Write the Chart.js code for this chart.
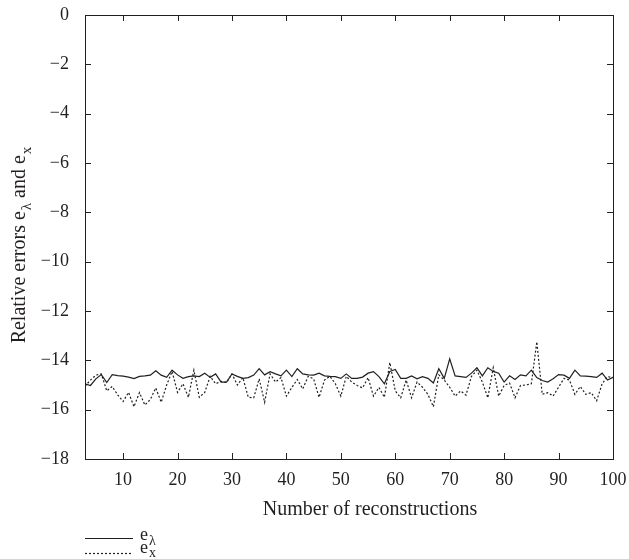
<!DOCTYPE html>
<html>
<head>
<meta charset="utf-8">
<script src="https://cdn.jsdelivr.net/npm/chart.js@4.4.0/dist/chart.umd.min.js"></script>
<style>
  html, body { margin: 0; padding: 0; background: #fff; }
</style>
</head>
<body>
<canvas id="errChart" width="629" height="559"></canvas>
<script>
// x values: number of reconstructions
const reconstructions = [3, 4, 5, 6, 7, 8, 9, 10, 11, 12, 13, 14, 15, 16, 17, 18, 19, 20,
  21, 22, 23, 24, 25, 26, 27, 28, 29, 30, 31, 32, 33, 34, 35, 36, 37, 38, 39, 40,
  41, 42, 43, 44, 45, 46, 47, 48, 49, 50, 51, 52, 53, 54, 55, 56, 57, 58, 59, 60,
  61, 62, 63, 64, 65, 66, 67, 68, 69, 70, 71, 72, 73, 74, 75, 76, 77, 78, 79, 80,
  81, 82, 83, 84, 85, 86, 87, 88, 89, 90, 91, 92, 93, 94, 95, 96, 97, 98, 99, 100];

// e_lambda (solid)
const eLambda = [-14.95, -15.02, -14.75, -14.58, -14.9, -14.58, -14.62, -14.64, -14.68, -14.74,
  -14.65, -14.63, -14.6, -14.42, -14.6, -14.69, -14.4, -14.59, -14.73, -14.66,
  -14.63, -14.66, -14.52, -14.69, -14.55, -14.88, -14.88, -14.55, -14.65, -14.73,
  -14.7, -14.6, -14.34, -14.59, -14.46, -14.55, -14.63, -14.4, -14.66, -14.34,
  -14.55, -14.59, -14.6, -14.52, -14.63, -14.65, -14.66, -14.73, -14.55, -14.73,
  -14.73, -14.68, -14.52, -14.46, -14.66, -14.95, -14.45, -14.37, -14.73, -14.73,
  -14.63, -14.75, -14.66, -14.73, -14.92, -14.34, -14.73, -13.94, -14.63, -14.66,
  -14.69, -14.52, -14.3, -14.63, -14.3, -14.45, -14.52, -14.88, -14.63, -14.78,
  -14.59, -14.63, -14.4, -14.7, -14.82, -14.88, -14.75, -14.58, -14.6, -14.73,
  -14.4, -14.63, -14.64, -14.66, -14.69, -14.52, -14.8, -14.69];

// e_x (dotted)
const eX = [-15.05, -14.8, -14.6, -14.55, -15.24, -15.06, -15.4, -15.67, -15.3, -15.88,
  -15.31, -15.81, -15.59, -15.12, -15.7, -15.0, -14.45, -15.3, -14.95, -15.5,
  -14.4, -15.5, -15.3, -14.65, -14.95, -14.85, -14.9, -14.55, -15.0, -14.7,
  -15.5, -15.52, -14.75, -15.7, -14.55, -14.88, -14.7, -15.45, -15.1, -14.78,
  -15.16, -14.65, -14.75, -15.5, -14.8, -14.65, -14.95, -15.45, -14.65, -14.88,
  -15.02, -15.12, -14.7, -15.45, -15.1, -15.5, -14.09, -15.24, -15.52, -14.8,
  -15.52, -14.88, -15.09, -15.38, -15.88, -14.59, -14.8, -15.09, -15.45, -15.24,
  -15.41, -14.65, -14.4, -14.88, -15.52, -14.3, -15.45, -15.02, -14.92, -15.52,
  -15.02, -15.0, -14.95, -13.25, -15.38, -15.31, -15.45, -15.09, -14.73, -14.8,
  -15.38, -15.06, -15.38, -15.31, -15.64, -14.95, -14.66, -14.7];

const xTicks = [10, 20, 30, 40, 50, 60, 70, 80, 90, 100];
const yTicks = [0, -2, -4, -6, -8, -10, -12, -14, -16, -18];

const FONT = '"Liberation Serif", "DejaVu Serif", serif';
const INK = '#231f20';

// text with a lowered subscript, returns total width
function subText(ctx, base, sub, x, y, size, drop) {
  ctx.font = size + 'px ' + FONT;
  ctx.fillText(base, x, y);
  const w = ctx.measureText(base).width;
  ctx.font = Math.round(size * 0.75) + 'px ' + FONT;
  ctx.fillText(sub, x + w + 1, y + size * (drop || 0.3));
  return w + 1 + ctx.measureText(sub).width;
}

function subWidth(ctx, base, sub, size) {
  ctx.font = size + 'px ' + FONT;
  const w = ctx.measureText(base).width;
  ctx.font = Math.round(size * 0.75) + 'px ' + FONT;
  return w + 1 + ctx.measureText(sub).width;
}

const framePlugin = {
  id: 'frame',
  afterDraw(chart) {
    const { ctx, chartArea: a, scales: { x, y } } = chart;
    ctx.save();
    ctx.strokeStyle = INK;
    ctx.fillStyle = INK;
    ctx.lineWidth = 1;
    ctx.strokeRect(Math.round(a.left) + 0.5, Math.round(a.top) + 0.5,
      Math.round(a.right - a.left), Math.round(a.bottom - a.top));

    // inward tick marks on all four sides
    const len = 6;
    ctx.beginPath();
    yTicks.forEach(v => {
      const py = Math.round(y.getPixelForValue(v)) + 0.5;
      ctx.moveTo(a.left, py); ctx.lineTo(a.left + len, py);
      ctx.moveTo(a.right, py); ctx.lineTo(a.right - len, py);
    });
    xTicks.forEach(v => {
      const px = Math.round(x.getPixelForValue(v)) + 0.5;
      ctx.moveTo(px, a.bottom); ctx.lineTo(px, a.bottom - len);
      ctx.moveTo(px, a.top); ctx.lineTo(px, a.top + len);
    });
    ctx.stroke();

    // y axis title
    const size = 20;
    ctx.textBaseline = 'alphabetic';
    ctx.textAlign = 'left';
    const parts = [['Relative errors e', '\u03bb'], [' and e', 'x']];
    let total = 0;
    parts.forEach(p => { total += subWidth(ctx, p[0], p[1], size); });
    ctx.translate(25, (a.top + a.bottom) / 2 + 8);
    ctx.rotate(-Math.PI / 2);
    let cx = -total / 2;
    parts.forEach(p => { cx += subText(ctx, p[0], p[1], cx, 0, size); });
    ctx.setTransform(1, 0, 0, 1, 0, 0);

    // x axis title
    ctx.font = size + 'px ' + FONT;
    ctx.textAlign = 'center';
    ctx.fillText('Number of reconstructions', 370, 515);

    // legend
    ctx.textAlign = 'left';
    const lx = a.left, lw = 48;
    ctx.lineWidth = 1.2;
    ctx.beginPath();
    ctx.moveTo(lx, 538.5); ctx.lineTo(lx + lw, 538.5);
    ctx.stroke();
    ctx.setLineDash([2, 2]);
    ctx.beginPath();
    ctx.moveTo(lx, 553.5); ctx.lineTo(lx + lw, 553.5);
    ctx.stroke();
    ctx.setLineDash([]);
    subText(ctx, 'e', '\u03bb', lx + lw + 7, 540, 18, 0.25);
    subText(ctx, 'e', 'x', lx + lw + 7, 553, 18, 0.22);
    ctx.restore();
  }
};

const minus = v => String(v).replace('-', '\u2212');

new Chart(document.getElementById('errChart').getContext('2d'), {
  type: 'line',
  data: {
    labels: reconstructions,
    datasets: [
      {
        label: 'e\u03bb',
        data: eLambda,
        borderColor: INK,
        borderWidth: 1.2,
        pointRadius: 0,
        tension: 0
      },
      {
        label: 'ex',
        data: eX,
        borderColor: INK,
        borderWidth: 1.2,
        borderDash: [2, 2],
        pointRadius: 0,
        tension: 0
      }
    ]
  },
  options: {
    responsive: false,
    animation: false,
    devicePixelRatio: 1,
    layout: { padding: { left: 0, right: 16, top: 15, bottom: 0 } },
    plugins: { legend: { display: false }, tooltip: { enabled: false } },
    scales: {
      x: {
        type: 'linear',
        min: 3,
        max: 100,
        grid: { display: false },
        border: { display: false },
        afterBuildTicks: s => { s.ticks = xTicks.map(v => ({ value: v })); },
        afterFit: s => { s.height = 100; s.paddingLeft = 0; s.paddingRight = 0; },
        ticks: { color: INK, padding: 2, maxRotation: 0, font: { family: FONT, size: 18 } }
      },
      y: {
        min: -18,
        max: 0,
        grid: { display: false },
        border: { display: false },
        afterBuildTicks: s => { s.ticks = yTicks.map(v => ({ value: v })); },
        afterFit: s => { s.width = 85; s.paddingTop = 0; s.paddingBottom = 0; },
        ticks: { color: INK, padding: 8, callback: v => minus(v), font: { family: FONT, size: 18 } }
      }
    }
  },
  plugins: [framePlugin]
});
</script>
</body>
</html>
